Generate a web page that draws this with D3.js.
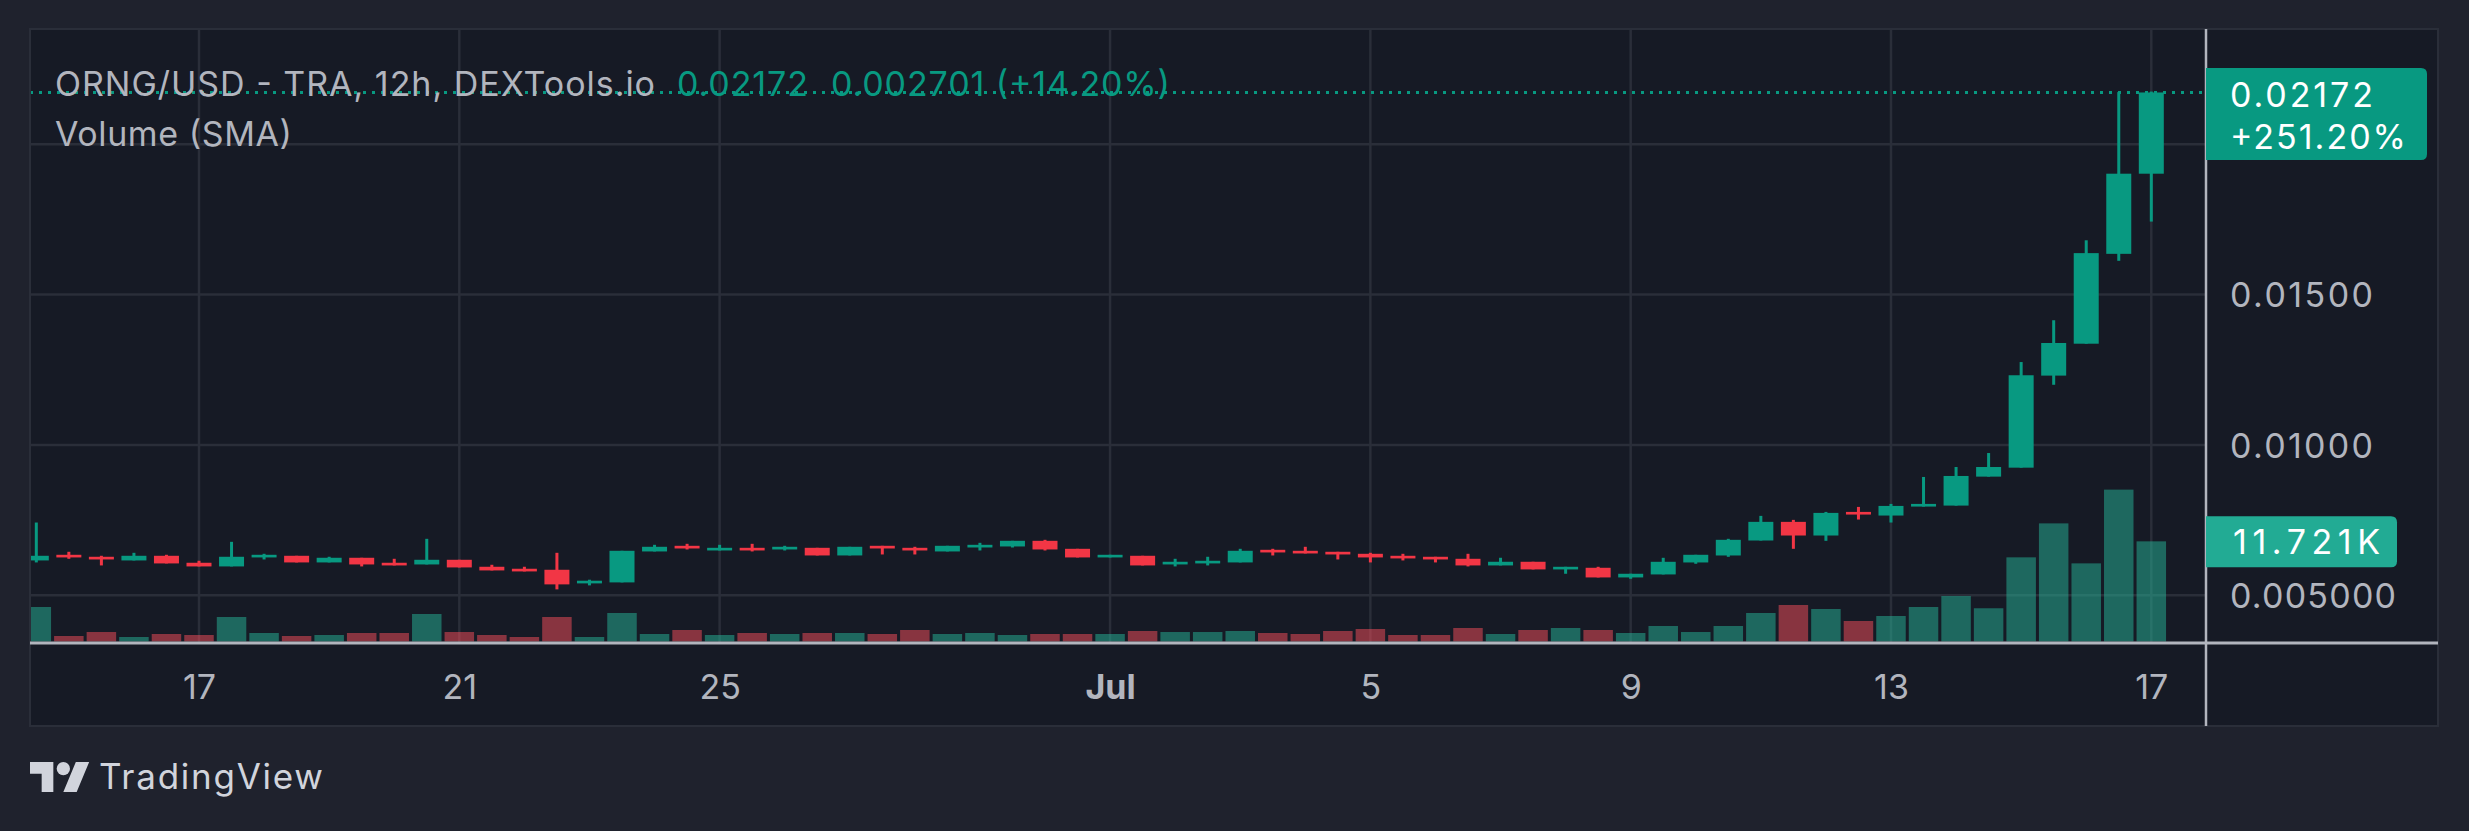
<!DOCTYPE html>
<html><head><meta charset="utf-8">
<script src="https://cdn.jsdelivr.net/npm/d3@7"></script>
<style>html,body{margin:0;padding:0;background:#1f222d;overflow:hidden}</style>
</head><body><svg id="c" width="2469" height="831"></svg>
<script>
// ---- data (12h candles, ORNG/USD) ----
const times = ["2024-06-14T12","2024-06-15T00","2024-06-15T12","2024-06-16T00","2024-06-16T12","2024-06-17T00","2024-06-17T12","2024-06-18T00","2024-06-18T12","2024-06-19T00","2024-06-19T12","2024-06-20T00","2024-06-20T12","2024-06-21T00","2024-06-21T12","2024-06-22T00","2024-06-22T12","2024-06-23T00","2024-06-23T12","2024-06-24T00","2024-06-24T12","2024-06-25T00","2024-06-25T12","2024-06-26T00","2024-06-26T12","2024-06-27T00","2024-06-27T12","2024-06-28T00","2024-06-28T12","2024-06-29T00","2024-06-29T12","2024-06-30T00","2024-06-30T12","2024-07-01T00","2024-07-01T12","2024-07-02T00","2024-07-02T12","2024-07-03T00","2024-07-03T12","2024-07-04T00","2024-07-04T12","2024-07-05T00","2024-07-05T12","2024-07-06T00","2024-07-06T12","2024-07-07T00","2024-07-07T12","2024-07-08T00","2024-07-08T12","2024-07-09T00","2024-07-09T12","2024-07-10T00","2024-07-10T12","2024-07-11T00","2024-07-11T12","2024-07-12T00","2024-07-12T12","2024-07-13T00","2024-07-13T12","2024-07-14T00","2024-07-14T12","2024-07-15T00","2024-07-15T12","2024-07-16T00","2024-07-16T12","2024-07-17T00"];
const opens  = [0.006159,0.006347,0.006281,0.006159,0.006314,0.006082,0.005960,0.006259,0.006314,0.006093,0.006248,0.006082,0.006026,0.006181,0.005949,0.005883,0.005849,0.005396,0.005429,0.006458,0.006646,0.006491,0.006579,0.006524,0.006579,0.006325,0.006646,0.006579,0.006458,0.006590,0.006624,0.006812,0.006546,0.006259,0.006314,0.006026,0.006060,0.006093,0.006513,0.006480,0.006447,0.006380,0.006314,0.006281,0.006214,0.005993,0.006115,0.005860,0.005915,0.005594,0.005694,0.006092,0.006324,0.006822,0.007442,0.006988,0.007773,0.007652,0.007950,0.007983,0.008946,0.009244,0.012305,0.013366,0.016354,0.019019];
const highs  = [0.007420,0.006447,0.006314,0.006413,0.006347,0.006148,0.006778,0.006380,0.006314,0.006281,0.006248,0.006214,0.006878,0.006181,0.006015,0.005949,0.006413,0.005518,0.006480,0.006679,0.006712,0.006679,0.006712,0.006646,0.006579,0.006613,0.006646,0.006613,0.006646,0.006745,0.006812,0.006845,0.006546,0.006347,0.006314,0.006214,0.006281,0.006546,0.006546,0.006613,0.006447,0.006413,0.006380,0.006281,0.006380,0.006248,0.006115,0.005948,0.005948,0.005716,0.006247,0.006347,0.006878,0.007641,0.007508,0.007773,0.007939,0.008039,0.008935,0.009266,0.009731,0.012756,0.014146,0.016805,0.021732,0.021750];
const lows   = [0.006093,0.006214,0.005993,0.006159,0.006060,0.005960,0.005960,0.006192,0.006093,0.006093,0.005960,0.005993,0.006026,0.005927,0.005827,0.005794,0.005197,0.005330,0.005429,0.006458,0.006524,0.006491,0.006458,0.006491,0.006325,0.006325,0.006358,0.006358,0.006458,0.006491,0.006590,0.006491,0.006259,0.006259,0.005993,0.005960,0.005993,0.006093,0.006325,0.006391,0.006192,0.006093,0.006159,0.006093,0.005960,0.005993,0.005861,0.005716,0.005594,0.005550,0.005694,0.006048,0.006280,0.006822,0.006546,0.006811,0.007519,0.007420,0.007950,0.007983,0.008946,0.009244,0.012000,0.013366,0.016122,0.017427];
const closes = [0.006314,0.006259,0.006192,0.006314,0.006060,0.005960,0.006281,0.006347,0.006093,0.006248,0.006026,0.005993,0.006181,0.005927,0.005827,0.005794,0.005363,0.005485,0.006480,0.006613,0.006557,0.006579,0.006491,0.006613,0.006325,0.006613,0.006557,0.006491,0.006646,0.006679,0.006812,0.006524,0.006259,0.006347,0.005993,0.006115,0.006148,0.006480,0.006425,0.006391,0.006358,0.006259,0.006226,0.006192,0.005993,0.006115,0.005861,0.005948,0.005594,0.005716,0.006114,0.006347,0.006845,0.007442,0.006988,0.007740,0.007685,0.007972,0.008039,0.008968,0.009266,0.012317,0.013390,0.016378,0.019019,0.021720];
const volumes = [4037,644,1111,527,878,761,2867,995,644,761,995,995,3218,1111,761,527,2867,527,3335,878,1346,761,995,878,995,995,878,1346,878,995,761,878,878,878,1229,1111,1111,1229,995,878,1229,1463,761,761,1580,878,1346,1580,1346,995,1814,1111,1814,3335,4271,3803,2399,2984,4037,5324,3890,9850,13824,9144,17773,11721];
const priceTicks = [0.005, 0.01, 0.015];
const priceGrid = [0.005, 0.01, 0.015, 0.02];
const timeTicks = ["2024-06-17","2024-06-21","2024-06-25","2024-07-01","2024-07-05","2024-07-09","2024-07-13","2024-07-17"];
const timeTickLabels = ["17","21","25","Jul","5","9","13","17"];
const titleText = "ORNG/USD - TRA, 12h, DEXTools.io";
const volumeTitle = "Volume (SMA)";
const lastPrice = 0.02172;
const lastChange = "0.002701 (+14.20%)";
const totalChange = "+251.20%";
const lastVolumeLabel = "11.721K";

// ---- layout ----
const W = 2469, H = 831;
const pane = {x0: 30, y0: 29, x1: 2438, y1: 726};
const plotRight = 2206, volBase = 643;
const FONT = "Inter, 'Noto Sans', sans-serif";
const UP = "#089981", DOWN = "#f23645";

const svg = d3.select("#c");
svg.append("rect").attr("width", W).attr("height", H).attr("fill", "#1f222d");
svg.append("rect").attr("x", pane.x0).attr("y", pane.y0)
  .attr("width", pane.x1 - pane.x0).attr("height", pane.y1 - pane.y0)
  .attr("fill", "#161a25").attr("stroke", "#2a2e39").attr("stroke-width", 2);

const parseT = s => new Date(s.length > 10 ? s + ":00:00Z" : s + "T00:00:00Z");
const x = d3.scaleUtc().domain([parseT("2024-06-17"), parseT("2024-07-17")]).range([199, 2151.3]);
const y = d3.scaleLinear().domain([0.005, 0.02]).range([595.3, 144.2]);
const yv = d3.scaleLinear().domain([0, 20000]).range([641.5, 470.6]);

const candles = times.map((t, i) => ({t: parseT(t), o: opens[i], h: highs[i], l: lows[i], c: closes[i], v: volumes[i]}));

svg.append("defs").append("clipPath").attr("id", "plotclip")
  .append("rect").attr("x", pane.x0 + 1).attr("y", pane.y0 + 1)
  .attr("width", plotRight - pane.x0 - 1).attr("height", volBase - pane.y0 - 1);

// grid
const grid = svg.append("g").attr("clip-path", "url(#plotclip)");
grid.selectAll("line.h").data(priceGrid).join("line").attr("class", "h")
  .attr("x1", pane.x0).attr("x2", plotRight).attr("y1", d => y(d)).attr("y2", d => y(d))
  .attr("stroke", "#2a2e39").attr("stroke-width", 2.5);
grid.selectAll("line.v").data(timeTicks).join("line").attr("class", "v")
  .attr("x1", d => x(parseT(d))).attr("x2", d => x(parseT(d))).attr("y1", pane.y0).attr("y2", volBase)
  .attr("stroke", "#2a2e39").attr("stroke-width", 2.5);

const plot = svg.append("g").attr("clip-path", "url(#plotclip)");
// volume
const VW = 29.5;
plot.selectAll("rect.vol").data(candles).join("rect").attr("class", "vol")
  .attr("x", d => x(d.t) - VW / 2).attr("width", VW)
  .attr("y", d => yv(d.v)).attr("height", d => yv(0) - yv(d.v))
  .attr("fill", d => d.c >= d.o ? "#26b699" : "#fa4e5b").attr("fill-opacity", 0.5);

// last price dotted line
plot.append("line").attr("x1", pane.x0).attr("x2", plotRight)
  .attr("y1", y(lastPrice)).attr("y2", y(lastPrice))
  .attr("stroke", UP).attr("stroke-width", 3).attr("stroke-dasharray", "3,6");

// candles
const BW = 25, WW = 3;
const cg = plot.selectAll("g.c").data(candles).join("g").attr("class", "c")
  .attr("fill", d => d.c >= d.o ? UP : DOWN);
cg.append("rect").attr("x", d => x(d.t) - WW / 2).attr("width", WW)
  .attr("y", d => y(d.h)).attr("height", d => Math.max(1, y(d.l) - y(d.h)));
cg.append("rect").attr("x", d => x(d.t) - BW / 2).attr("width", BW)
  .attr("y", d => Math.min(y(d.o), y(d.c)))
  .attr("height", d => Math.max(2.5, Math.abs(y(d.o) - y(d.c))));

// axis lines
svg.append("line").attr("x1", pane.x0).attr("x2", pane.x1).attr("y1", volBase).attr("y2", volBase)
  .attr("stroke", "#b2b5be").attr("stroke-width", 3);
svg.append("line").attr("x1", plotRight).attr("x2", plotRight).attr("y1", pane.y0).attr("y2", pane.y1)
  .attr("stroke", "#b2b5be").attr("stroke-width", 2.5);

// helper: fit a text to the width measured in the reference
const fit = (sel, w) => sel.attr("textLength", w).attr("lengthAdjust", "spacing");

// price axis
const yAxis = d3.axisRight(y).tickValues(priceTicks).tickFormat(d3.format(".4r")).tickSize(0).tickPadding(24);
const ya = svg.append("g").attr("transform", `translate(${plotRight},0)`).call(yAxis);
ya.select(".domain").remove();
ya.selectAll("text").attr("fill", "#b2b5be").attr("font-family", FONT).attr("font-size", 34).attr("dy", "0.36em")
  .attr("textLength", d => d < 0.01 ? 166 : 143).attr("lengthAdjust", "spacing");

// time axis
const xAxis = d3.axisBottom(x).tickValues(timeTicks.map(parseT)).tickFormat((d, i) => timeTickLabels[i]).tickSize(0).tickPadding(32);
const xa = svg.append("g").attr("transform", `translate(0,${volBase})`).call(xAxis);
xa.select(".domain").remove();
xa.selectAll("text").attr("fill", "#b2b5be").attr("font-family", FONT).attr("font-size", 34)
  .attr("font-weight", (d, i) => timeTickLabels[i] === "Jul" ? 700 : 400);

// last price label
const lp = svg.append("g");
lp.append("path").attr("d", `M${plotRight},68 H2421 Q2427,68 2427,74 V154 Q2427,160 2421,160 H${plotRight} Z`).attr("fill", UP);
fit(lp.append("text").attr("x", 2230).attr("y", 106.5).text(d3.format(".5f")(lastPrice)), 143);
fit(lp.append("text").attr("x", 2230).attr("y", 148.5).text(totalChange), 176);
lp.selectAll("text").attr("fill", "#ffffff").attr("font-family", FONT).attr("font-size", 34);

// volume label
const lastV = candles[candles.length - 1].v;
const vl = svg.append("g");
vl.append("path").attr("d", `M${plotRight},${yv(lastV) - 25} H2391 Q2397,${yv(lastV) - 25} 2397,${yv(lastV) - 19} V${yv(lastV) + 20} Q2397,${yv(lastV) + 26} 2391,${yv(lastV) + 26} H${plotRight} Z`).attr("fill", "#22ab94");
fit(vl.append("text").attr("x", 2233).attr("y", yv(lastV) + 13).text(lastVolumeLabel), 147)
  .attr("fill", "#ffffff").attr("font-family", FONT).attr("font-size", 34);

// titles
const tg = svg.append("g").attr("font-family", FONT).attr("font-size", 34);
fit(tg.append("text").attr("x", 55).attr("y", 96).attr("fill", "#b2b5be").text(titleText), 600);
fit(tg.append("text").attr("x", 677).attr("y", 96).attr("fill", UP).text(d3.format(".5f")(lastPrice)), 131);
fit(tg.append("text").attr("x", 831).attr("y", 96).attr("fill", UP).text(lastChange), 339);
fit(tg.append("text").attr("x", 55).attr("y", 146).attr("fill", "#b2b5be").text(volumeTitle), 237);

// TradingView logo
const logo = svg.append("g").attr("transform", "translate(30,755.3) scale(1.667)").attr("fill", "#d1d4dc");
logo.append("path").attr("d", "M14 22H7V11H0V4h14v18zM28 22h-8l7.5-18h8L28 22z");
logo.append("circle").attr("cx", 20).attr("cy", 8).attr("r", 4);
fit(svg.append("text").attr("x", 99).attr("y", 789).attr("fill", "#d1d4dc")
  .attr("font-family", FONT).attr("font-size", 35).text("TradingView"), 224);
</script></body></html>
